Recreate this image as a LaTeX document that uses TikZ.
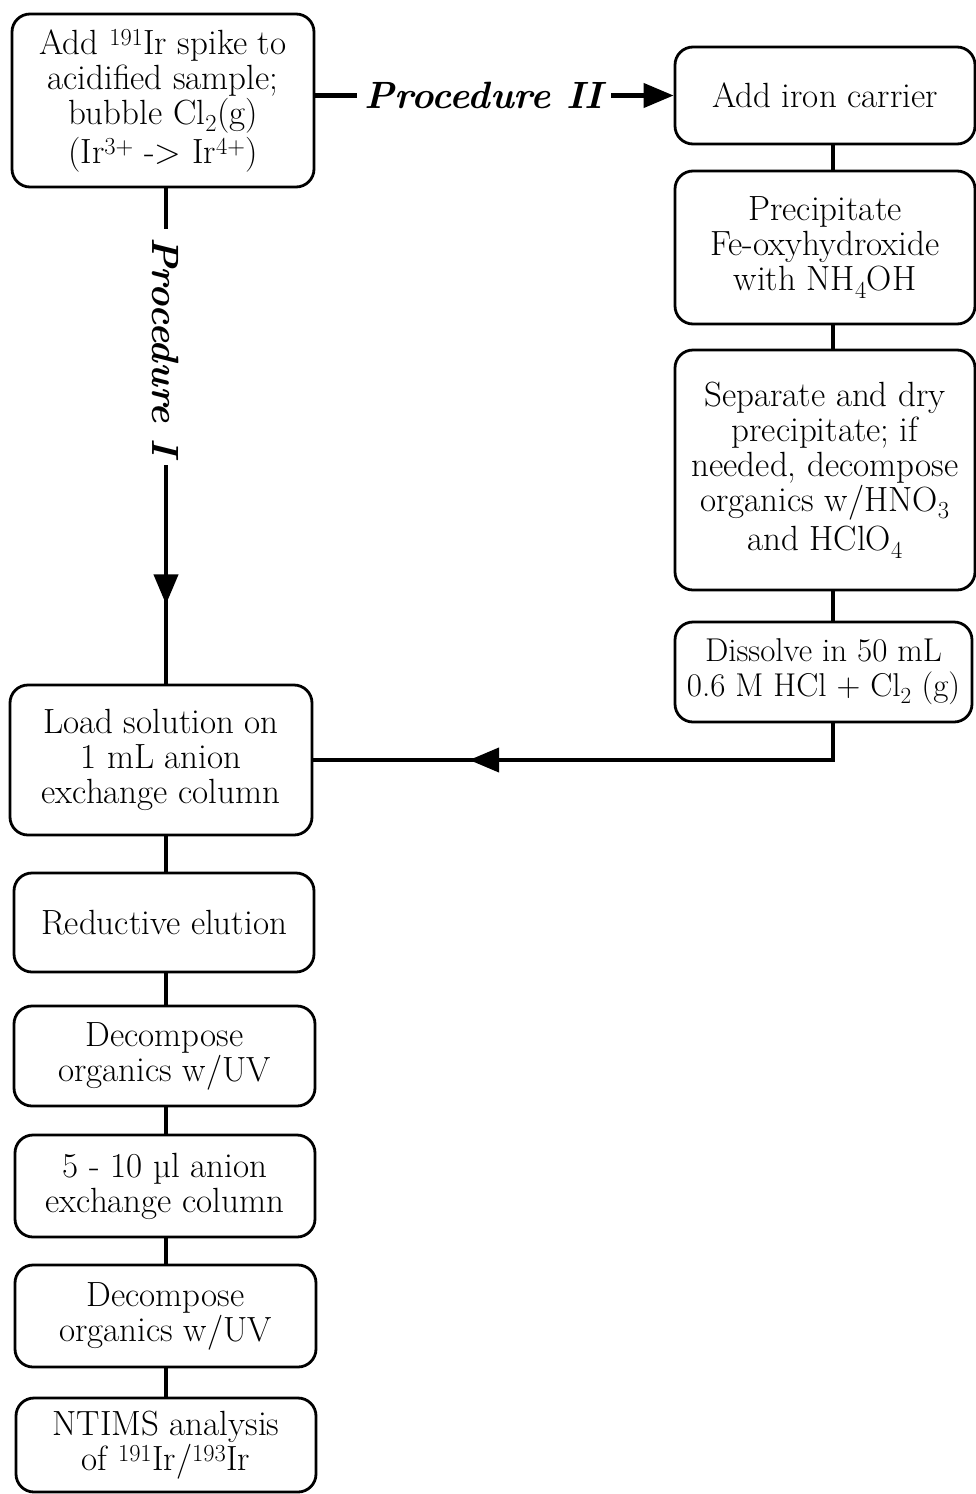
\documentclass[tikz,border=0pt]{standalone}
\usetikzlibrary{arrows.meta,decorations.markings}
\begin{document}
\begin{tikzpicture}[x=1pt,y=-1pt,
  box/.style={draw, line width=2.8pt, rounded corners=18pt, align=center, inner sep=0pt,
    font=\fontsize{35}{35}\selectfont},
  conn/.style={line width=4.2pt},
  proclabel/.style={fill=white, inner sep=8pt, font=\fontsize{38}{40}\selectfont\bfseries\itshape},
  tip/.style={-{Triangle[length=30pt,width=24pt]}}]
\useasboundingbox (0,0) rectangle (976,1494);
\node[box, minimum width=302pt, minimum height=173pt] (A) at (163,100.5)
  {Add \textsuperscript{191}Ir spike to\\acidified sample;\\bubble Cl\textsubscript{2}(g)\\[4pt](Ir\textsuperscript{3+} -> Ir\textsuperscript{4+})};
\node[box, minimum width=300pt, minimum height=97pt] (B) at (825,95.5) {Add iron carrier};
\node[box, minimum width=300pt, minimum height=153pt] (C) at (825,247.5)
  {Precipitate\\Fe-oxyhydroxide\\with NH\textsubscript{4}OH};
\node[box, minimum width=300pt, minimum height=240pt] (D) at (825,470)
  {Separate and dry\\precipitate; if\\needed, decompose\\organics w/HNO\textsubscript{3}\\[4pt]and HClO\textsubscript{4}};
\node[box, minimum width=297pt, minimum height=100pt, font=\fontsize{33}{35}\selectfont] (E) at (823.5,672)
  {Dissolve in 50 mL\\0.6 M HCl + Cl\textsubscript{2} (g)};
\node[box, minimum width=302pt, minimum height=150pt] (F) at (161,760)
  {Load solution on\\1 mL anion\\exchange column};
\node[box, minimum width=300pt, minimum height=99pt] (G) at (164,922.5) {Reductive elution};
\node[box, minimum width=301pt, minimum height=100pt] (H) at (164.5,1056)
  {Decompose\\organics w/UV};
\node[box, minimum width=300pt, minimum height=102pt] (I) at (165,1186)
  {5 - 10 \textmu l anion\\exchange column};
\node[box, minimum width=301pt, minimum height=102pt] (J) at (165.5,1316)
  {Decompose\\organics w/UV};
\node[box, minimum width=300pt, minimum height=94pt] (K) at (166,1445)
  {NTIMS analysis\\of \textsuperscript{191}Ir/\textsuperscript{193}Ir};
% Procedure II
\draw[conn, tip] (A.east |- B.west) -- node[proclabel, pos=0.47] (P2) {Procedure II} (B.west);
% Procedure I
\coordinate (a1) at (A.south -| 166,0);
\coordinate (f1) at (F.north -| 166,0);
\draw[conn, postaction={decorate}, decoration={markings,
   mark=at position 0.84 with {\arrow{Triangle[length=30pt,width=24pt]}}}]
  (a1) -- node[proclabel, pos=0.32, rotate=-90] (P1) {Procedure I} (f1);
% right column
\foreach \u/\v in {B/C, C/D, D/E} {
  \draw[conn] (\u.south -| 833,0) -- (\v.north -| 833,0);
}
\coordinate (e1) at (E.south -| 833,0);
\draw[conn, postaction={decorate}, decoration={markings,
   mark=at position 0.72 with {\arrow{Triangle[length=30pt,width=24pt]}}}]
  (e1) |- (F.east);
% left column
\foreach \u/\v in {F/G, G/H, H/I, I/J, J/K} {
  \draw[conn] (\u.south -| 166,0) -- (\v.north -| 166,0);
}
\end{tikzpicture}
\end{document}
